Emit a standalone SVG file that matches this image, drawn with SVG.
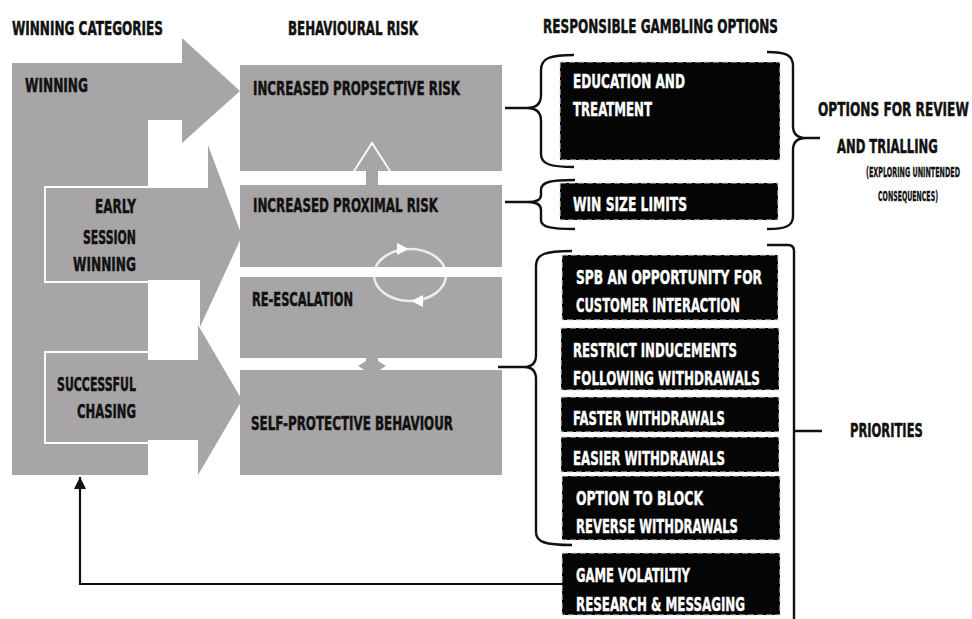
<svg xmlns="http://www.w3.org/2000/svg" width="972" height="619" viewBox="0 0 972 619">
<style>
.t{font-family:'Liberation Sans Narrow','DejaVu Sans Condensed','Liberation Sans',Arial,sans-serif;font-weight:bold;font-size:20px;fill:#111;stroke:#111;stroke-width:0.5}
.w{fill:#fff;stroke:#fff;stroke-width:0.4}
.sm{font-size:14px;stroke-width:0.3}
.g{fill:#a7a5a6}
.bx{fill:#050505;stroke:#d8d8d8;stroke-width:1;stroke-dasharray:6 3}
.br{fill:none;stroke:#111;stroke-width:2.4}
.wl{fill:none;stroke:#fff;stroke-width:1.8}
</style>
<defs>
<marker id="ah" viewBox="0 0 10 10" refX="10" refY="5" markerWidth="12" markerHeight="12" markerUnits="userSpaceOnUse" orient="auto">
<path d="M0,0 L10,5 L0,10 z" fill="#111"/>
</marker>
</defs>
<rect width="972" height="619" fill="#fff"/>

<text class="t" x="12" y="35" textLength="151" lengthAdjust="spacingAndGlyphs" font-size="19">WINNING CATEGORIES</text>
<text class="t" x="288" y="35" textLength="130" lengthAdjust="spacingAndGlyphs" font-size="19">BEHAVIOURAL RISK</text>
<text class="t" x="543" y="33" textLength="235" lengthAdjust="spacingAndGlyphs" font-size="19">RESPONSIBLE GAMBLING OPTIONS</text>

<g id="winning-categories">
<rect class="g" x="12" y="63" width="136" height="412"/>
<polygon class="g" points="12,63 182,63 182,38 240,91 182,143 182,120 12,120"/>
<polygon class="g" points="148,188 208,188 208,145 242,236 200,327 200,280 148,280"/>
<polygon class="g" points="148,360 198,360 198,325 242,400 198,475 198,440 148,440"/>
<polyline class="wl" points="148,187 45,187 45,282 148,282"/>
<polyline class="wl" points="148,352 45,352 45,443 148,443"/>
</g>
<g id="winning"><text class="t" x="25" y="92" textLength="63" lengthAdjust="spacingAndGlyphs">WINNING</text></g>
<g id="early-session-winning">
<text class="t" x="95" y="213" textLength="41" lengthAdjust="spacingAndGlyphs">EARLY</text>
<text class="t" x="83" y="244" textLength="53" lengthAdjust="spacingAndGlyphs">SESSION</text>
<text class="t" x="73" y="271" textLength="63" lengthAdjust="spacingAndGlyphs">WINNING</text>
</g>
<g id="successful-chasing">
<text class="t" x="57" y="391" textLength="79" lengthAdjust="spacingAndGlyphs">SUCCESSFUL</text>
<text class="t" x="77" y="418" textLength="59" lengthAdjust="spacingAndGlyphs">CHASING</text>
</g>

<g id="prospective-risk">
<rect class="g" x="240" y="65" width="262" height="106"/>
<text class="t" x="253" y="95" textLength="207" lengthAdjust="spacingAndGlyphs">INCREASED PROPSECTIVE RISK</text>
</g>
<g id="proximal-risk">
<rect class="g" x="240" y="185" width="262" height="82"/>
<text class="t" x="253" y="212" textLength="185" lengthAdjust="spacingAndGlyphs">INCREASED PROXIMAL RISK</text>
</g>
<g id="re-escalation">
<rect class="g" x="240" y="277" width="262" height="81"/>
<text class="t" x="252" y="306" textLength="101" lengthAdjust="spacingAndGlyphs">RE-ESCALATION</text>
</g>
<g id="self-protective">
<rect class="g" x="240" y="370" width="262" height="105"/>
<text class="t" x="251" y="430" textLength="202" lengthAdjust="spacingAndGlyphs">SELF-PROTECTIVE BEHAVIOUR</text>
</g>

<g id="risk-connectors">
<rect class="g" x="366" y="169" width="12" height="18"/>
<polyline class="wl" points="354,171 372,143 390,171"/>
<rect class="g" x="366" y="356" width="12" height="16"/>
<polygon class="g" points="358,366 366,361 366,371"/>
<polygon class="g" points="386,366 378,361 378,371"/>
<ellipse cx="410" cy="275" rx="36" ry="26" fill="none" stroke="#fff" stroke-opacity="0.8" stroke-width="2.5"/>
<polygon points="397,243 409,249 397,255" fill="#fff"/>
<polygon points="423,295 411,301 423,307" fill="#fff"/>
</g>

<g id="education"><rect class="bx" x="560" y="62" width="220" height="98"/>
<text class="t w" x="573" y="88" textLength="112" lengthAdjust="spacingAndGlyphs">EDUCATION AND</text>
<text class="t w" x="573" y="116" textLength="79" lengthAdjust="spacingAndGlyphs">TREATMENT</text></g>
<g id="win-size"><rect class="bx" x="560" y="183" width="218" height="37"/>
<text class="t w" x="573" y="211" textLength="114" lengthAdjust="spacingAndGlyphs">WIN SIZE LIMITS</text></g>
<g id="spb"><rect class="bx" x="562" y="255" width="216" height="65"/>
<text class="t w" x="576" y="284" textLength="186" lengthAdjust="spacingAndGlyphs">SPB AN OPPORTUNITY FOR</text>
<text class="t w" x="576" y="312" textLength="164" lengthAdjust="spacingAndGlyphs">CUSTOMER INTERACTION</text></g>
<g id="restrict"><rect class="bx" x="561" y="328" width="218" height="62"/>
<text class="t w" x="573" y="357" textLength="164" lengthAdjust="spacingAndGlyphs">RESTRICT INDUCEMENTS</text>
<text class="t w" x="573" y="385" textLength="187" lengthAdjust="spacingAndGlyphs">FOLLOWING WITHDRAWALS</text></g>
<g id="faster"><rect class="bx" x="561" y="397" width="218" height="35"/>
<text class="t w" x="573" y="425" textLength="152" lengthAdjust="spacingAndGlyphs">FASTER WITHDRAWALS</text></g>
<g id="easier"><rect class="bx" x="561" y="437" width="218" height="35"/>
<text class="t w" x="573" y="465" textLength="152" lengthAdjust="spacingAndGlyphs">EASIER WITHDRAWALS</text></g>
<g id="block"><rect class="bx" x="562" y="476" width="218" height="64"/>
<text class="t w" x="576" y="505" textLength="127" lengthAdjust="spacingAndGlyphs">OPTION TO BLOCK</text>
<text class="t w" x="576" y="533" textLength="162" lengthAdjust="spacingAndGlyphs">REVERSE WITHDRAWALS</text></g>
<g id="volatility"><rect class="bx" x="562" y="553" width="218" height="62"/>
<text class="t w" x="576" y="582" textLength="114" lengthAdjust="spacingAndGlyphs">GAME VOLATILTIY</text>
<text class="t w" x="576" y="611" textLength="169" lengthAdjust="spacingAndGlyphs">RESEARCH &amp; MESSAGING</text></g>

<g id="review-label">
<text class="t" transform="translate(818,116) scale(0.65,1)" x="0" y="0" textLength="232" lengthAdjust="spacingAndGlyphs">OPTIONS FOR REVIEW</text>
<text class="t" transform="translate(837,153) scale(0.65,1)" x="0" y="0" textLength="155" lengthAdjust="spacingAndGlyphs">AND TRIALLING</text>
<text class="t sm" transform="translate(866,177) scale(0.5,1)" x="0" y="0" textLength="188" lengthAdjust="spacingAndGlyphs">(EXPLORING UNINTENDED</text>
<text class="t sm" transform="translate(878,201) scale(0.5,1)" x="0" y="0" textLength="120" lengthAdjust="spacingAndGlyphs">CONSEQUENCES)</text>
</g>
<g id="priorities-label">
<text class="t" transform="translate(850,437) scale(0.65,1)" x="0" y="0" textLength="112" lengthAdjust="spacingAndGlyphs">PRIORITIES</text>
</g>

<g id="connectors">
<path class="br" d="M574,55 C550,55 541,58 541,70 L541,95 C541,104 536,108 527,108 C536,108 541,112 541,121 L541,154 C541,164 550,167 574,167 M527,108 L505,108"/>
<path class="br" d="M575,180 C550,180 541,182 541,190 L541,195 C541,200 537,202 528,202 C537,202 541,205 541,210 L541,220 C541,227 550,229 575,229 M528,202 L505,202"/>
<path class="br" d="M572,251 C545,251 536,254 536,266 L536,355 C536,363 532,367 524,367 C532,367 536,371 536,379 L536,532 C536,542 545,545 572,545 M524,367 L498,367"/>
<path class="br" d="M767,52 C786,52 793,55 793,66 L793,126 C793,134 797,138 806,138 C797,138 793,142 793,150 L793,216 C793,226 786,229 767,229 M806,138 L820,138"/>
<path class="br" stroke-width="2" d="M767,245 L788,245 C792,245 794,247 794,251 L794,619 M794,431 L822,431"/>
<path fill="none" stroke="#111" stroke-width="2.2" d="M562,584 L80,584 L80,477" marker-end="url(#ah)"/>
</g>
</svg>
